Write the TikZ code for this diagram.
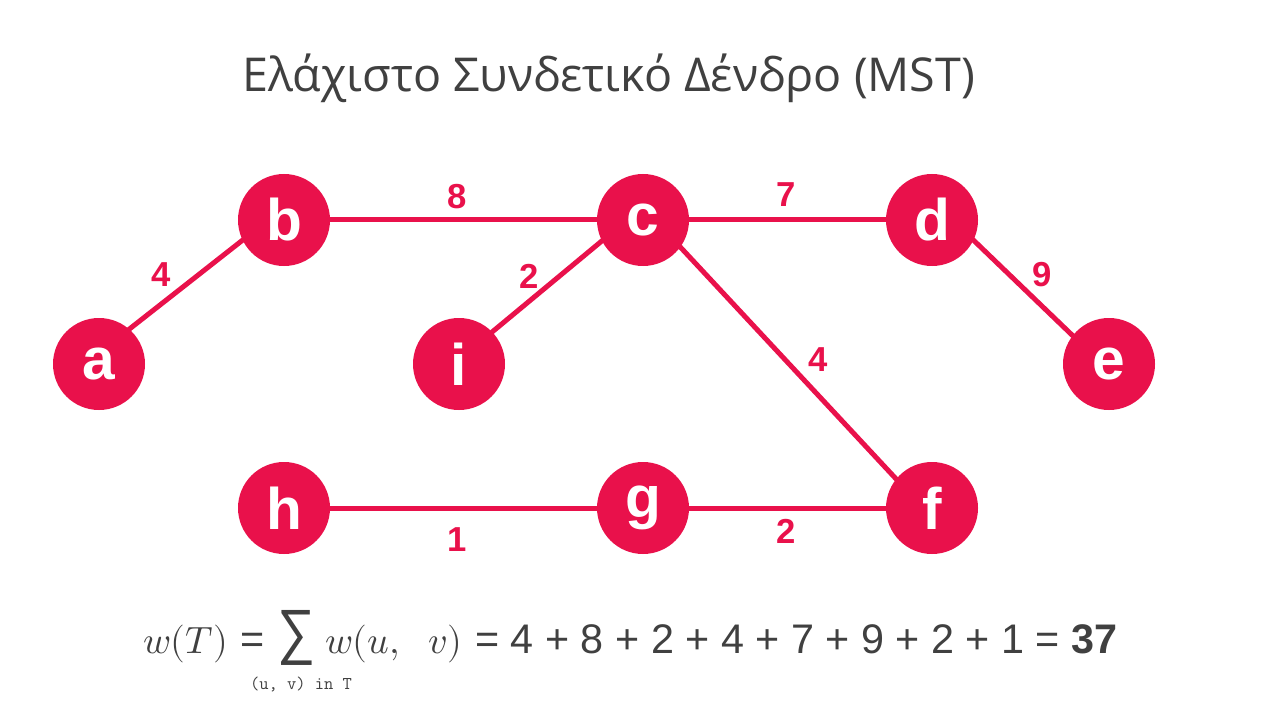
\documentclass[tikz,border=0pt]{standalone}
\usepackage{fontspec}
\usepackage{unicode-math}
\setmathfont{Latin Modern Math}
\usepackage{graphicx}
\usetikzlibrary{calc}
\newfontfamily\arial{Liberation Sans}
\newfontfamily\osans{Open Sans}
\definecolor{crim}{RGB}{233,17,75}
\definecolor{ink}{RGB}{64,64,64}
\pgfdeclarelayer{background}
\pgfsetlayers{background,main}
\begin{document}
\begin{tikzpicture}[x=0.75pt,y=-0.75pt,
 vert/.style={circle,fill=crim,minimum size=69pt,inner sep=0pt,text=white,font=\arial\bfseries\fontsize{44}{44}\selectfont},
 edge/.style={draw=crim,line width=3.75pt},
 wlab/.style={text=crim,inner sep=0pt,font=\arial\bfseries\fontsize{26}{26}\selectfont},
 formula/.style={inner sep=0pt,text=ink,font=\arial\fontsize{31}{31}\selectfont},
 mathpart/.style={inner sep=0pt,text=ink,font=\fontsize{28.5}{28.5}\selectfont}]
\begin{pgfonlayer}{background}
\fill[white] (0,0) rectangle (1280,720);
\end{pgfonlayer}
\useasboundingbox (0,0) rectangle (1280,720);

\node[anchor=base west,inner sep=0pt,text=ink,font=\osans\fontsize{35}{35}\selectfont] (title) at (242,92) {Ελάχιστο Συνδετικό Δένδρο (MST)};

\node[vert] (a) at (99,364) {a};
\node[vert] (b) at (284,220) {b};
\node[vert] (c) at (643,220) {c};
\node[vert] (d) at (932,220) {d};
\node[vert] (e) at (1109,364) {e};
\node[vert] (i) at (459,364) {i};
\node[vert] (h) at (284,508) {h};
\node[vert] (g) at (643,508) {g};
\node[vert] (f) at (932,508) {f};

\begin{pgfonlayer}{background}
\draw[edge] ($(a.49)!-8pt!(b.-154)$) -- ($(b.-154)!-8pt!(a.49)$);
\draw[edge] (b.center) -- (c.center);
\draw[edge] ($(i.44)!-8pt!(c.-153)$) -- ($(c.-153)!-8pt!(i.44)$);
\draw[edge] (c.center) -- (d.center);
\draw[edge] ($(d.-26)!-8pt!(e.142)$) -- ($(e.142)!-8pt!(d.-26)$);
\draw[edge] ($(c.-36)!-8pt!(f.141)$) -- ($(f.141)!-8pt!(c.-36)$);
\draw[edge] (h.center) -- (g.center);
\draw[edge] (g.center) -- (f.center);
\end{pgfonlayer}

\node[wlab] (lab) at (161,275) {4};
\node[wlab] (lbc) at (457,197) {8};
\node[wlab] (lci) at (529,276) {2};
\node[wlab] (lcd) at (786,195) {7};
\node[wlab] (lde) at (1042,275) {9};
\node[wlab] (lcf) at (818,360) {4};
\node[wlab] (lhg) at (457,540) {1};
\node[wlab] (lgf) at (786,531) {2};

\node[mathpart,anchor=base west] (lhs) at (143,653) {$w(T)$};
\node[formula,anchor=base west] (eq1) at (240,653) {=};
\node[inner sep=0pt,text=ink] (sig) at (296.5,637.5) {\resizebox*{28.5pt}{41.25pt}{\arial ∑}};
\node[mathpart,anchor=base west] (wuv) at (325,653) {$w(u,\ \ v)$};
\node[formula,anchor=base west] (rhs) at (475,653) {= 4 + 8 + 2 + 4 + 7 + 9 + 2 + 1 = \textbf{37}};
\node[inner sep=0pt,text=ink,font=\ttfamily\fontsize{13.5}{13.5}\selectfont,anchor=base] (sub) at (301,689) {(u, v) in T};
\end{tikzpicture}
\end{document}
